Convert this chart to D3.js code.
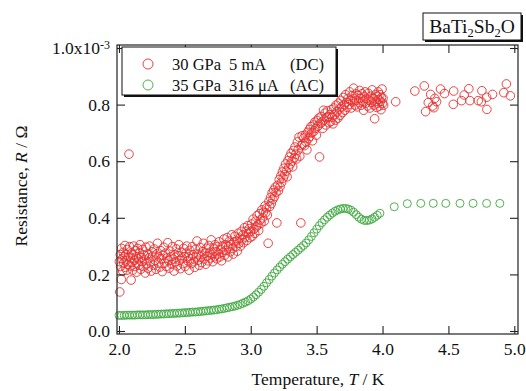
<!DOCTYPE html>
<html>
<head>
<meta charset="utf-8">
<script src="https://cdn.jsdelivr.net/npm/d3@7"></script>
<style>
  html, body { margin: 0; padding: 0; background: #fff; }
  svg text { font-family: "Liberation Serif", "Times New Roman", serif; }
</style>
</head>
<body>
<div id="chart"></div>
<script>
// x ticks (K) and y ticks (units of 1e-3 ohm)
const xTicks = [2.0, 2.5, 3.0, 3.5, 4.0, 4.5, 5.0];
const yTicks = [0.0, 0.2, 0.4, 0.6, 0.8, 1.0];
const yTickLabels = ["0.0", "0.2", "0.4", "0.6", "0.8", "1.0x10"];

const seriesNames = [
  ["30 GPa", "5 mA", "(DC)"],
  ["35 GPa", "316 \u03bcA", "(AC)"]
];

// 30 GPa, 5 mA (DC) : [T, R*1e3]
const dcData = [
  [2.003,0.245],[2.006,0.138],[2.010,0.270],[2.012,0.228],[2.018,0.182],[2.020,0.292],[2.024,0.255],[2.028,0.212],
  [2.032,0.278],[2.036,0.240],[2.040,0.262],[2.045,0.302],[2.048,0.225],[2.052,0.270],[2.056,0.248],[2.060,0.215],
  [2.064,0.288],[2.068,0.236],[2.072,0.262],[2.076,0.625],[2.080,0.298],[2.084,0.230],[2.088,0.258],[2.092,0.180],
  [2.096,0.276],[2.100,0.242],
  [2.104,0.215],[2.108,0.268],[2.112,0.300],[2.116,0.250],[2.120,0.228],[2.125,0.284],[2.130,0.262],[2.134,0.208],
  [2.138,0.240],[2.142,0.292],[2.147,0.255],[2.152,0.232],[2.156,0.275],[2.160,0.305],[2.165,0.218],[2.170,0.260],
  [2.175,0.245],[2.180,0.288],[2.185,0.228],[2.190,0.268],[2.195,0.252],[2.200,0.205],[2.205,0.296],[2.210,0.238],
  [2.215,0.272],[2.220,0.222],[2.226,0.258],[2.232,0.300],[2.238,0.244],[2.244,0.212],[2.250,0.280],[2.256,0.265],
  [2.262,0.232],[2.268,0.290],[2.274,0.250],[2.280,0.218],[2.286,0.272],[2.292,0.310],[2.298,0.240],[2.304,0.262],
  [2.310,0.226],[2.316,0.284],[2.322,0.255],[2.328,0.210],[2.334,0.268],[2.340,0.296],[2.346,0.240],[2.352,0.275],
  [2.358,0.228],[2.364,0.258],[2.370,0.312],[2.376,0.248],[2.382,0.222],[2.388,0.282],[2.394,0.262],[2.400,0.236],
  [2.406,0.298],[2.412,0.254],[2.418,0.212],[2.424,0.270],[2.430,0.245],[2.436,0.290],[2.442,0.230],[2.448,0.266],
  [2.454,0.305],[2.460,0.250],[2.466,0.220],[2.472,0.278],[2.478,0.258],[2.484,0.238],[2.490,0.292],[2.496,0.262],
  [2.502,0.228],[2.508,0.275],[2.514,0.300],[2.520,0.248],[2.526,0.262],[2.532,0.215],[2.538,0.285],[2.544,0.255],
  [2.550,0.238],[2.556,0.298],[2.562,0.270],[2.568,0.245],[2.574,0.225],[2.580,0.288],[2.586,0.262],[2.592,0.318],
  [2.598,0.250],[2.604,0.272],[2.610,0.232],[2.616,0.295],[2.622,0.262],[2.628,0.242],[2.634,0.280],[2.640,0.310],
  [2.646,0.255],[2.652,0.275],[2.658,0.236],[2.664,0.292],[2.670,0.265],[2.676,0.248],[2.682,0.302],[2.688,0.278],
  [2.694,0.258],[2.700,0.322],[2.706,0.270],[2.712,0.245],[2.718,0.290],[2.724,0.262],[2.730,0.305],[2.736,0.280],
  [2.742,0.255],[2.748,0.298],[2.754,0.272],[2.760,0.315],[2.766,0.262],[2.772,0.288],[2.778,0.248],[2.784,0.300],
  [2.790,0.278],[2.796,0.325],
  [2.802,0.268],[2.808,0.305],[2.814,0.285],[2.820,0.330],[2.826,0.262],[2.832,0.298],[2.838,0.318],[2.844,0.280],
  [2.850,0.305],[2.856,0.340],[2.862,0.292],[2.868,0.272],[2.874,0.315],[2.880,0.335],[2.886,0.298],[2.892,0.318],
  [2.898,0.282],[2.904,0.345],[2.910,0.310],[2.916,0.328],[2.922,0.300],[2.928,0.352],[2.934,0.322],[2.940,0.340],
  [2.946,0.312],[2.952,0.365],[2.958,0.332],[2.964,0.352],[2.970,0.320],[2.976,0.372],[2.982,0.345],[2.988,0.362],
  [2.994,0.330],
  [3.000,0.352],[3.006,0.378],[3.012,0.335],[3.018,0.395],[3.024,0.360],[3.030,0.345],[3.036,0.388],[3.042,0.368],
  [3.048,0.408],[3.054,0.375],[3.060,0.355],[3.066,0.415],[3.072,0.392],[3.078,0.380],[3.084,0.428],[3.090,0.400],
  [3.096,0.420],[3.102,0.388],[3.108,0.442],[3.114,0.418],[3.120,0.435],[3.126,0.410],[3.132,0.310],[3.138,0.458],
  [3.144,0.440],[3.150,0.472],[3.156,0.450],[3.162,0.488],[3.168,0.465],[3.174,0.498],[3.180,0.475],[3.186,0.508],
  [3.192,0.490],[3.198,0.382],
  [3.204,0.515],[3.210,0.495],[3.216,0.535],[3.222,0.510],[3.228,0.548],[3.234,0.525],[3.240,0.562],[3.246,0.540],
  [3.252,0.575],[3.258,0.552],[3.264,0.590],[3.270,0.565],[3.276,0.545],[3.282,0.602],[3.288,0.578],[3.294,0.615],
  [3.300,0.590],[3.306,0.628],[3.312,0.600],[3.318,0.580],[3.324,0.638],[3.330,0.612],[3.336,0.650],[3.342,0.625],
  [3.348,0.608],[3.354,0.668],[3.360,0.640],[3.366,0.685],[3.372,0.618],[3.380,0.382],[3.384,0.655],[3.390,0.690],
  [3.396,0.660],
  [3.402,0.682],[3.408,0.655],[3.414,0.692],[3.420,0.668],[3.426,0.640],[3.432,0.702],[3.438,0.680],[3.444,0.712],
  [3.450,0.688],[3.456,0.722],[3.462,0.700],[3.468,0.672],[3.474,0.728],[3.480,0.706],[3.486,0.738],[3.492,0.716],
  [3.498,0.692],[3.504,0.744],[3.510,0.724],[3.516,0.752],[3.522,0.615],[3.528,0.734],[3.534,0.758],[3.540,0.738],
  [3.546,0.716],[3.552,0.780],[3.558,0.746],[3.564,0.770],[3.570,0.728],[3.576,0.754],[3.582,0.778],[3.588,0.758],
  [3.594,0.736],
  [3.600,0.765],[3.606,0.740],[3.612,0.782],[3.618,0.755],[3.624,0.732],[3.630,0.788],[3.636,0.765],[3.642,0.745],
  [3.648,0.798],[3.654,0.775],[3.660,0.752],[3.666,0.805],[3.672,0.784],[3.678,0.762],[3.684,0.815],[3.690,0.792],
  [3.696,0.772],[3.702,0.825],[3.708,0.800],[3.714,0.780],[3.720,0.835],[3.726,0.808],[3.732,0.790],[3.738,0.822],
  [3.744,0.800],[3.750,0.845],[3.756,0.815],[3.762,0.788],[3.768,0.832],[3.774,0.810],[3.780,0.858],[3.786,0.820],
  [3.792,0.798],[3.798,0.838],
  [3.802,0.815],[3.808,0.792],[3.814,0.832],[3.820,0.808],[3.826,0.850],[3.832,0.822],[3.838,0.798],[3.844,0.838],
  [3.850,0.812],[3.856,0.780],[3.862,0.828],[3.868,0.845],[3.874,0.805],[3.880,0.822],[3.886,0.795],[3.892,0.840],
  [3.898,0.815],[3.904,0.788],[3.910,0.830],[3.916,0.808],[3.922,0.852],[3.928,0.822],[3.934,0.798],[3.940,0.750],
  [3.946,0.835],[3.952,0.812],[3.956,0.790],[3.960,0.828],[3.964,0.805],[3.968,0.845],[3.972,0.818],[3.976,0.795],
  [3.980,0.835],[3.984,0.812],[3.988,0.782],[3.992,0.825],[3.996,0.855],[4.000,0.805],[4.004,0.822],[4.008,0.798],
  [4.100,0.810],[4.245,0.848],[4.317,0.866],[4.365,0.836],[4.347,0.807],[4.327,0.775],[4.390,0.789],[4.397,0.822],
  [4.440,0.855],[4.470,0.839],[4.410,0.810],[4.380,0.795],[4.540,0.848],[4.537,0.801],[4.600,0.814],[4.620,0.834],
  [4.655,0.856],[4.663,0.814],[4.726,0.814],[4.754,0.849],[4.750,0.810],[4.790,0.826],[4.792,0.783],[4.835,0.836],
  [4.940,0.873],[4.920,0.842],[4.970,0.831]
];

// 35 GPa, 316 uA (AC) : [T, R*1e3]
const acData = [
  [2.00,0.055],[2.02,0.055],[2.04,0.055],[2.06,0.056],[2.08,0.056],[2.10,0.056],[2.12,0.056],[2.14,0.057],
  [2.16,0.057],[2.18,0.057],[2.20,0.057],[2.22,0.058],[2.24,0.058],[2.26,0.058],[2.28,0.059],[2.30,0.059],
  [2.32,0.060],[2.34,0.060],[2.36,0.061],[2.38,0.061],[2.40,0.062],[2.42,0.062],[2.44,0.063],[2.46,0.063],
  [2.48,0.064],[2.50,0.065],[2.52,0.065],[2.54,0.066],[2.56,0.067],[2.58,0.067],[2.60,0.068],[2.62,0.069],
  [2.64,0.070],[2.66,0.071],[2.68,0.072],[2.70,0.073],[2.72,0.074],[2.74,0.075],[2.76,0.077],[2.78,0.078],
  [2.80,0.080],[2.82,0.082],[2.84,0.084],[2.86,0.086],[2.88,0.088],[2.90,0.091],[2.92,0.094],[2.94,0.098],
  [2.96,0.102],[2.98,0.107],[3.00,0.113],[3.02,0.120],[3.04,0.128],[3.06,0.137],[3.08,0.147],[3.10,0.158],
  [3.12,0.170],[3.14,0.182],[3.16,0.194],[3.18,0.205],[3.20,0.216],[3.22,0.226],[3.24,0.236],[3.26,0.245],
  [3.28,0.254],[3.30,0.262],[3.32,0.270],[3.34,0.278],[3.36,0.286],[3.38,0.294],[3.40,0.302],[3.42,0.311],
  [3.44,0.322],[3.46,0.334],[3.48,0.347],[3.50,0.360],[3.52,0.372],[3.54,0.383],[3.56,0.393],[3.58,0.402],
  [3.60,0.410],[3.62,0.417],[3.64,0.423],[3.66,0.428],[3.68,0.431],[3.70,0.433],[3.72,0.433],[3.74,0.431],
  [3.76,0.427],[3.78,0.420],[3.80,0.411],[3.82,0.402],[3.84,0.395],[3.86,0.391],[3.88,0.390],[3.90,0.392],
  [3.92,0.396],[3.94,0.402],[3.96,0.409],[3.98,0.416],
  [4.089,0.439],[4.188,0.450],[4.290,0.451],[4.385,0.451],[4.480,0.451],[4.588,0.451],[4.687,0.451],[4.790,0.451],
  [4.890,0.451]
];

const colors = ["#e6302f", "#3da83d"];

const W = 526, H = 391;
const frame = { left: 117, right: 518, top: 45, bottom: 334 };

const svg = d3.select("#chart").append("svg")
  .attr("width", W)
  .attr("height", H);

const x = d3.scaleLinear().domain([1.985, 5.028]).range([frame.left, frame.right]);
const y = d3.scaleLinear().domain([-0.0106, 1.0106]).range([frame.bottom, frame.top]);

// data first, frame on top
const plot = svg.append("g");

plot.append("g").selectAll("circle")
  .data(dcData)
  .enter().append("circle")
    .attr("cx", d => x(d[0]))
    .attr("cy", d => y(d[1]))
    .attr("r", 4.3)
    .attr("fill", "none")
    .attr("stroke", colors[0])
    .attr("stroke-width", 0.9);

plot.append("g").selectAll("circle")
  .data(acData)
  .enter().append("circle")
    .attr("cx", d => x(d[0]))
    .attr("cy", d => y(d[1]))
    .attr("r", 4.0)
    .attr("fill", "none")
    .attr("stroke", colors[1])
    .attr("stroke-width", 0.9);

// axes, ticks point inward
const tickLen = 8;

svg.append("g")
  .attr("transform", "translate(0," + frame.bottom + ")")
  .call(d3.axisBottom(x).tickValues(xTicks).tickSize(-tickLen).tickPadding(9)
        .tickFormat(d3.format(".1f")));

svg.append("g")
  .attr("transform", "translate(0," + frame.top + ")")
  .call(d3.axisTop(x).tickValues(xTicks).tickSize(-tickLen).tickFormat(""));

const yAxis = svg.append("g")
  .attr("transform", "translate(" + frame.left + ",0)")
  .call(d3.axisLeft(y).tickValues(yTicks).tickSize(-tickLen).tickPadding(7)
        .tickFormat((d, i) => yTickLabels[i]));

svg.append("g")
  .attr("transform", "translate(" + frame.right + ",0)")
  .call(d3.axisRight(y).tickValues(yTicks).tickSize(-tickLen).tickFormat(""));

svg.selectAll(".domain").remove();
svg.selectAll(".tick line").attr("stroke", "#222").attr("stroke-width", 1.1);
svg.selectAll(".tick text")
  .attr("fill", "#111")
  .style("font-size", "17.5px")
  .style("font-family", "'Liberation Serif', serif");

// exponent on the top y label
yAxis.selectAll(".tick text")
  .filter((d, i) => i === yTicks.length - 1)
  .append("tspan")
    .attr("dy", "-0.45em")
    .style("font-size", "12px")
    .text("-3");

svg.append("rect")
  .attr("x", frame.left)
  .attr("y", frame.top)
  .attr("width", frame.right - frame.left)
  .attr("height", frame.bottom - frame.top)
  .attr("fill", "none")
  .attr("stroke", "#222")
  .attr("stroke-width", 1.2);

// axis titles
const xTitle = svg.append("text")
  .attr("x", 318)
  .attr("y", 385)
  .attr("text-anchor", "middle")
  .style("font-size", "17.5px")
  .attr("fill", "#111");
xTitle.append("tspan").text("Temperature, ");
xTitle.append("tspan").style("font-style", "italic").text("T");
xTitle.append("tspan").text(" / K");

const yTitle = svg.append("text")
  .attr("transform", "translate(27,186) rotate(-90)")
  .attr("text-anchor", "middle")
  .style("font-size", "17.5px")
  .attr("fill", "#111");
yTitle.append("tspan").text("Resistance, ");
yTitle.append("tspan").style("font-style", "italic").text("R");
yTitle.append("tspan").text(" / \u03a9");

// legend box with shadow
const leg = { x: 122, y: 47, w: 214, h: 48 };
svg.append("rect")
  .attr("x", leg.x + 2).attr("y", leg.y + 2)
  .attr("width", leg.w).attr("height", leg.h)
  .attr("fill", "#111");
svg.append("rect")
  .attr("x", leg.x).attr("y", leg.y)
  .attr("width", leg.w).attr("height", leg.h)
  .attr("fill", "#fff").attr("stroke", "#111").attr("stroke-width", 1);

seriesNames.forEach((parts, i) => {
  const cy = leg.y + 17 + i * 21;
  svg.append("circle")
    .attr("cx", leg.x + 26).attr("cy", cy).attr("r", 5)
    .attr("fill", "none").attr("stroke", colors[i]).attr("stroke-width", 0.9);
  const cols = [172, 229, 290];
  parts.forEach((p, j) => {
    svg.append("text")
      .attr("x", cols[j]).attr("y", cy + 5.5)
      .style("font-size", "16.5px")
      .attr("fill", "#111")
      .text(p);
  });
});

// compound label box
const tb = { x: 423, y: 13, w: 98, h: 27 };
svg.append("rect")
  .attr("x", tb.x + 2).attr("y", tb.y + 2)
  .attr("width", tb.w).attr("height", tb.h)
  .attr("fill", "#111");
svg.append("rect")
  .attr("x", tb.x).attr("y", tb.y)
  .attr("width", tb.w).attr("height", tb.h)
  .attr("fill", "#fff").attr("stroke", "#111").attr("stroke-width", 1);

const title = svg.append("text")
  .attr("x", tb.x + tb.w / 2).attr("y", tb.y + 20)
  .attr("text-anchor", "middle")
  .style("font-size", "19.5px")
  .attr("fill", "#111");
title.append("tspan").text("BaTi");
title.append("tspan").attr("dy", 4).style("font-size", "12.5px").text("2");
title.append("tspan").attr("dy", -4).text("Sb");
title.append("tspan").attr("dy", 4).style("font-size", "12.5px").text("2");
title.append("tspan").attr("dy", -4).text("O");
</script>
</body>
</html>
